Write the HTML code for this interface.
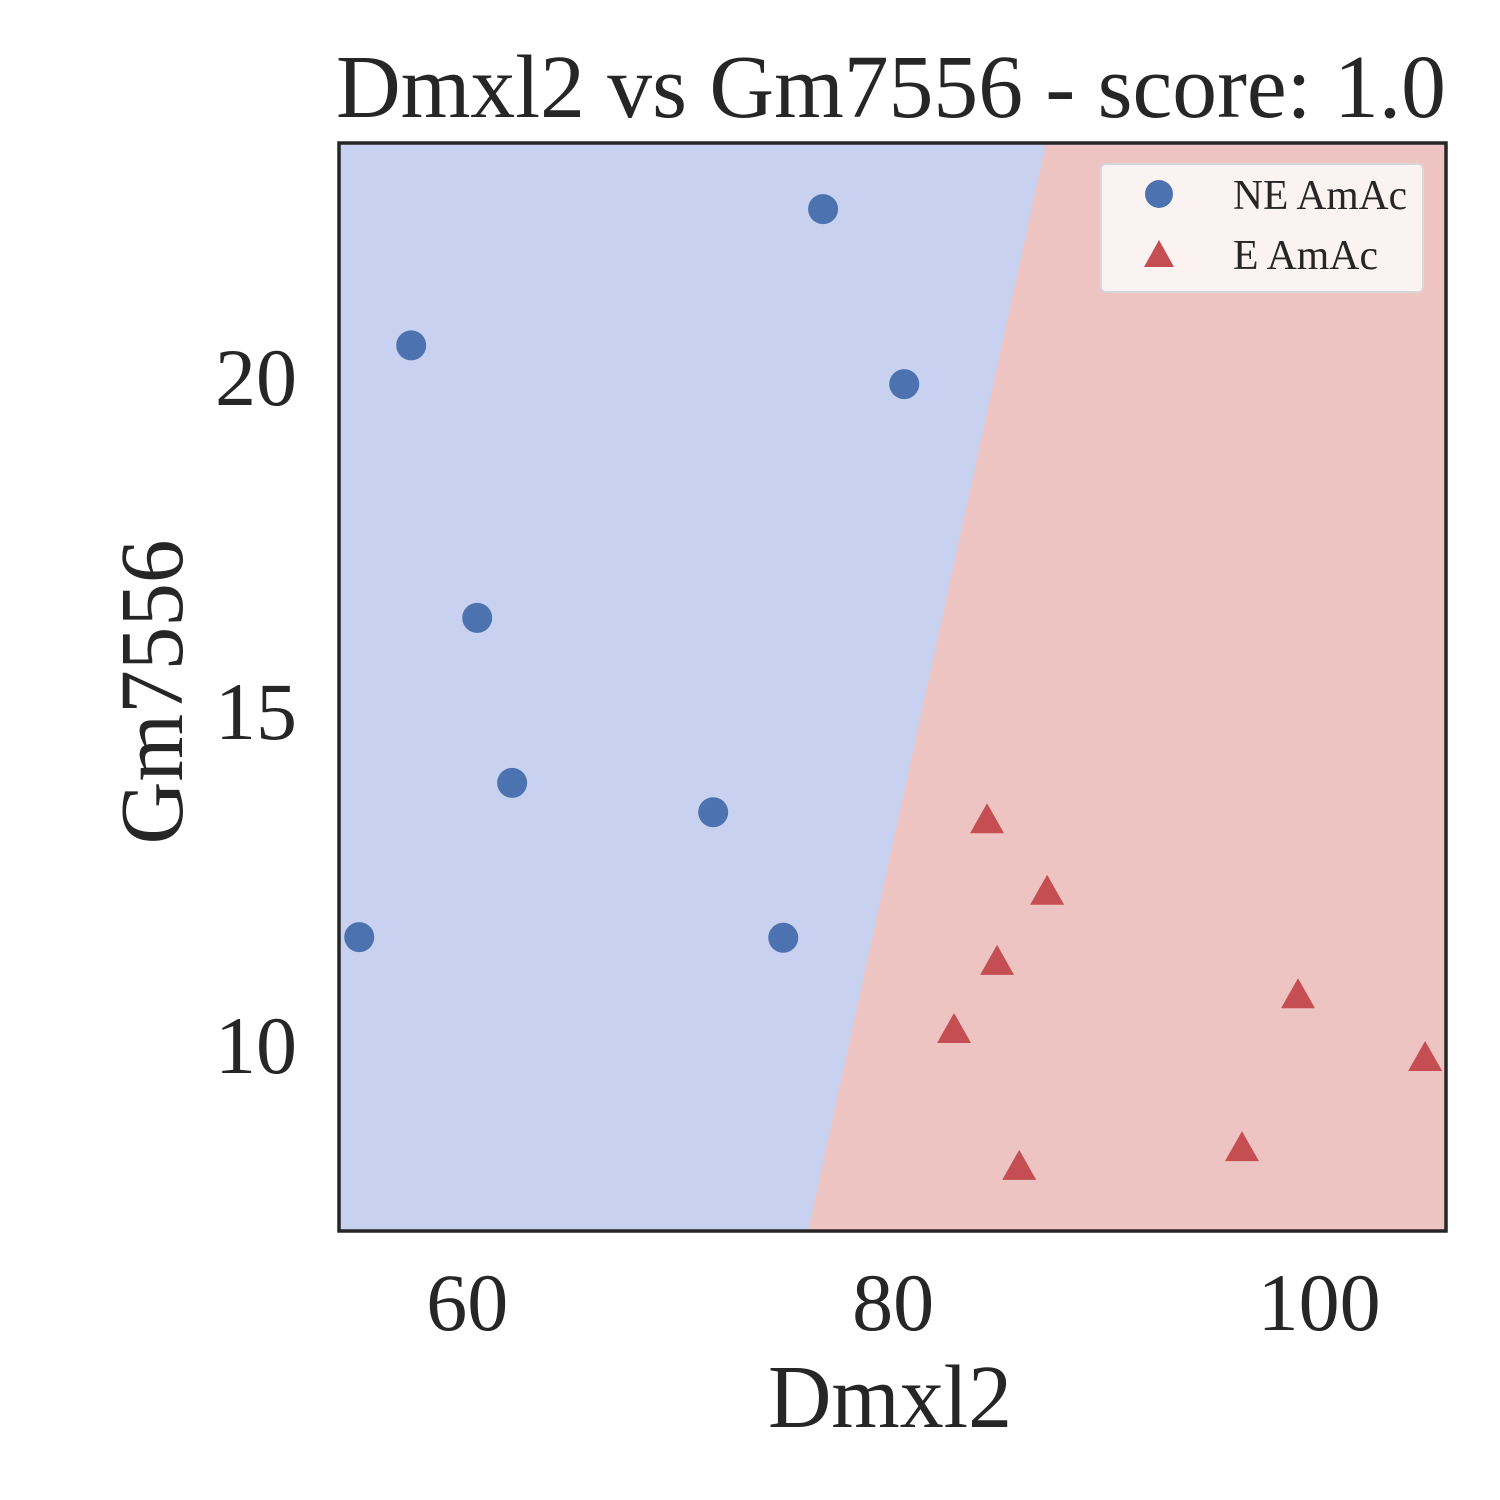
<!DOCTYPE html>
<html><head><meta charset="utf-8"><style>
html,body{margin:0;padding:0;background:#fff;}
svg{display:block;font-family:"Liberation Serif",serif;}
</style></head><body>
<svg id="chart" width="1500" height="1500" viewBox="0 0 1500 1500"></svg>
<script>
const neX=[54.93,57.37,60.47,62.11,71.55,74.84,76.71,80.52];
const neY=[11.63,20.49,16.41,13.94,13.50,11.62,22.53,19.91];
const eX=[84.41,87.23,84.88,82.86,99.01,104.98,96.38,85.92];
const eY=[13.38,12.31,11.26,10.24,10.76,9.82,8.47,8.19];
const boundaryX=[87.18,76.01];
const boundaryY=[23.52,7.23];
const xTicks=[60,80,100];
const yTicks=[10,15,20];
const xMin=53.98,xMax=105.96,yMin=7.23,yMax=23.52;
const L=339,R=1446,T=143,B=1231;
const sx=v=>L+(v-xMin)/(xMax-xMin)*(R-L);
const sy=v=>B-(v-yMin)/(yMax-yMin)*(B-T);
const NS="http://www.w3.org/2000/svg";
const svg=document.getElementById('chart');
function mk(tag,attrs,parent){const e=document.createElementNS(NS,tag);for(const k in attrs)e.setAttribute(k,attrs[k]);(parent||svg).appendChild(e);return e;}
let e;
e=mk('rect',{x:L,y:T,width:R-L,height:B-T,fill:'#c8d1f0'});


e=mk('polygon',{points:`${sx(boundaryX[0])},${sy(boundaryY[0])} ${R},${T} ${R},${B} ${sx(boundaryX[1])},${sy(boundaryY[1])}`,fill:'#eec4c3'});


for(let i=0;i<neX.length;i++){
 e=mk('circle',{cx:sx(neX[i]),cy:sy(neY[i]),r:15,fill:'#4c72b0'});
 
 
}
for(let i=0;i<eX.length;i++){
 const cx=sx(eX[i]),cy=sy(eY[i]);
 e=mk('polygon',{points:`${cx},${cy-17} ${cx-17},${cy+13} ${cx+17},${cy+13}`,fill:'#c44e52'});
 
 
}
e=mk('rect',{x:L,y:T,width:R-L,height:B-T,fill:'none',stroke:'#262626','stroke-width':3.5});


for(const t of xTicks){
 e=mk('text',{x:sx(t),y:1330,'text-anchor':'middle','font-size':82,fill:'#262626'});e.textContent=t;
 
 
}
for(const t of yTicks){
 e=mk('text',{x:297,y:sy(t)+27,'text-anchor':'end','font-size':82,fill:'#262626'});e.textContent=t;
 
 
}
e=mk('text',{x:890,y:1427,'text-anchor':'middle','font-size':90,fill:'#262626',textLength:244,lengthAdjust:'spacingAndGlyphs'});e.textContent='Dmxl2';


e=mk('text',{x:0,y:0,'text-anchor':'middle','font-size':90,fill:'#262626',textLength:305,lengthAdjust:'spacingAndGlyphs',transform:'translate(182,692) rotate(-90)'});e.textContent='Gm7556';


e=mk('text',{x:891,y:117,'text-anchor':'middle','font-size':90,fill:'#262626',textLength:1110,lengthAdjust:'spacingAndGlyphs'});e.textContent='Dmxl2 vs Gm7556 - score: 1.0';


const lg=mk('g',{});


mk('rect',{x:1101,y:164,width:322,height:128,rx:5,fill:'#fbf3f2',stroke:'#d8d8d8','stroke-width':2},lg);
mk('circle',{cx:1159,cy:194,r:14,fill:'#4c72b0'},lg);
mk('polygon',{points:'1159,240 1144,267 1174,267',fill:'#c44e52'},lg);
e=mk('text',{x:1233,y:209,'font-size':42,fill:'#262626',textLength:174,lengthAdjust:'spacingAndGlyphs'},lg);e.textContent='NE AmAc';


e=mk('text',{x:1233,y:269,'font-size':42,fill:'#262626',textLength:145,lengthAdjust:'spacingAndGlyphs'},lg);e.textContent='E AmAc';


</script>
</body></html>
